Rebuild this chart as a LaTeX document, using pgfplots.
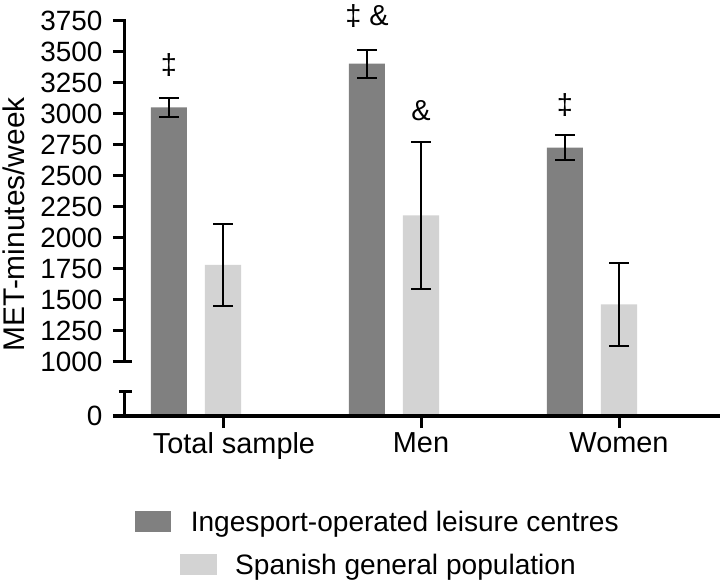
\documentclass[border=0pt]{standalone}
\usepackage{pgfplots}
\pgfplotsset{compat=1.18}
\usepackage{fontspec}
\setmainfont{Liberation Sans}
\definecolor{darkbar}{RGB}{128,128,128}
\definecolor{lightbar}{RGB}{211,211,211}

\begin{document}
\begin{tikzpicture}
\begin{axis}[
  at={(0,0)}, anchor=south west,
  scale only axis, width=593bp, height=395.3bp,
  xmin=-0.495, xmax=2.5, ymin=562, ymax=3750,
  enlargelimits=false,
  axis lines*=left,
  axis on top,
  clip mode=individual,
  x axis line style={line width=3bp, line cap=rect},
  y axis line style={draw=none},
  tick align=outside,
  major tick length=12bp,
  every tick/.style={black, line width=3bp},
  xtick={0,1,2},
  xticklabels={\hspace*{22bp}Total sample, Men, Women},
  ytick={562,1000,1250,1500,1750,2000,2250,2500,2750,3000,3250,3500,3750},
  yticklabels={0,1000,1250,1500,1750,2000,2250,2500,2750,3000,3250,3500,3750},
  /pgf/number format/assume math mode=true,
  xticklabel style={font=\fontsize{29}{31}\selectfont, yshift=-1bp},
  yticklabel style={font=\fontsize{28}{30}\selectfont, xshift=-7bp},
  ylabel={MET-minutes/week},
  every axis y label/.style={at={([xshift=-100bp, yshift=-6bp]rel axis cs:0,0.5)}, rotate=90, anchor=base, inner sep=0pt, font=\fontsize{30}{32}\selectfont},
]
% Ingesport-operated leisure centres
\addplot[ybar, bar width=0.182, bar shift=0pt, fill=darkbar, draw=none,
  error bars/.cd, y dir=both, y explicit,
  error bar style={line width=2bp, black},
  error mark options={rotate=90, mark size=10bp, line width=2bp, black}]
  coordinates {(-0.273,3050) +- (0,77) (0.727,3404) +- (0,113) (1.727,2727) +- (0,98)};
% Spanish general population
\addplot[ybar, bar width=0.182, bar shift=0pt, fill=lightbar, draw=none,
  error bars/.cd, y dir=both, y explicit,
  error bar style={line width=2bp, black},
  error mark options={rotate=90, mark size=10bp, line width=2bp, black}]
  coordinates {(0,1780) +- (0,328) (1,2179) +- (0,595) (2,1463) +- (0,335)};

% broken y axis line
\draw[line width=3bp] (axis cs:-0.495,562) -- (axis cs:-0.495,756);
\draw[line width=3bp] ([xshift=-6bp]axis cs:-0.495,756) -- ([xshift=7bp]axis cs:-0.495,756);
\draw[line width=3bp, line cap=rect] (axis cs:-0.495,1000) -- (axis cs:-0.495,3750);
\draw[line width=3bp] (axis cs:-0.495,1000) -- ([xshift=7bp]axis cs:-0.495,1000);

% significance marks
\node[anchor=south, inner sep=0pt, yshift=21bp, font=\fontsize{29}{31}\selectfont] at (axis cs:-0.273,3127) {‡};
\node[anchor=south, inner sep=0pt, yshift=22bp, font=\fontsize{29}{31}\selectfont] at (axis cs:0.727,3517) {‡ \&};
\node[anchor=south, inner sep=0pt, yshift=21bp, font=\fontsize{29}{31}\selectfont] at (axis cs:1,2774) {\&};
\node[anchor=south, inner sep=0pt, yshift=19bp, font=\fontsize{29}{31}\selectfont] at (axis cs:1.727,2825) {‡};
\end{axis}

% legend
\node[anchor=base, inner sep=0pt, font=\fontsize{28.2}{30}\selectfont] at (252bp,-115.7bp)
  {\textcolor{darkbar}{\rule{36bp}{20.7bp}}\hspace{19.5bp}Ingesport-operated leisure centres};
\node[anchor=base, inner sep=0pt, font=\fontsize{28.2}{30}\selectfont] at (253bp,-158.5bp)
  {\textcolor{lightbar}{\rule{37bp}{21bp}}\hspace{18bp}Spanish general population};

\pgfresetboundingbox
\path[use as bounding box] (-125bp,-167bp) rectangle (597bp,416bp);
\end{tikzpicture}
\end{document}
